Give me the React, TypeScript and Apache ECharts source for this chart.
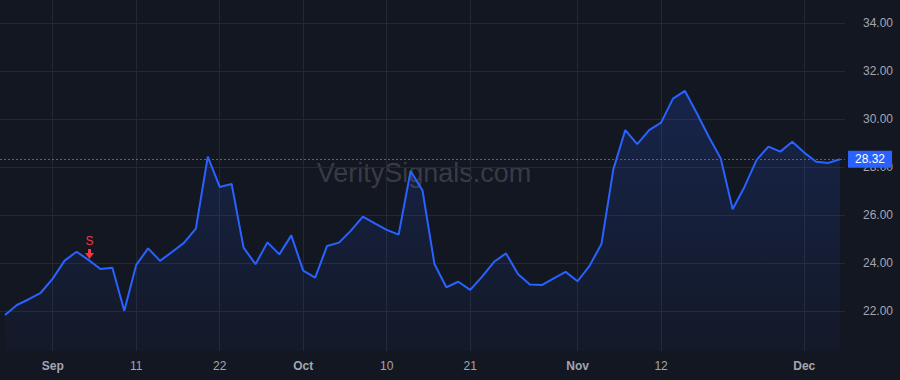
import React, { useEffect, useRef } from 'react';
import * as echarts from 'echarts';

const dates: string[] = [
  '2025-08-26', '2025-08-27', '2025-08-28', '2025-08-29',
  '2025-09-02', '2025-09-03', '2025-09-04', '2025-09-05', '2025-09-08', '2025-09-09', '2025-09-10',
  '2025-09-11', '2025-09-12', '2025-09-15', '2025-09-16', '2025-09-17', '2025-09-18', '2025-09-19',
  '2025-09-22', '2025-09-23', '2025-09-24', '2025-09-25', '2025-09-26', '2025-09-29', '2025-09-30',
  '2025-10-01', '2025-10-02', '2025-10-03', '2025-10-06', '2025-10-07', '2025-10-08', '2025-10-09',
  '2025-10-10', '2025-10-13', '2025-10-14', '2025-10-15', '2025-10-16', '2025-10-17', '2025-10-20',
  '2025-10-21', '2025-10-22', '2025-10-23', '2025-10-24', '2025-10-27', '2025-10-28', '2025-10-29',
  '2025-10-30', '2025-10-31',
  '2025-11-03', '2025-11-04', '2025-11-05', '2025-11-06', '2025-11-07', '2025-11-10', '2025-11-11',
  '2025-11-12', '2025-11-13', '2025-11-14', '2025-11-17', '2025-11-18', '2025-11-19', '2025-11-20',
  '2025-11-21', '2025-11-24', '2025-11-25', '2025-11-26', '2025-11-28',
  '2025-12-01', '2025-12-02', '2025-12-03', '2025-12-04',
];

const closes: number[] = [
  21.83, 22.25, 22.49, 22.76,
  23.35, 24.10, 24.47, 24.13, 23.75, 23.80, 22.01,
  23.92, 24.61, 24.09, 24.46, 24.84, 25.43, 28.43,
  27.17, 27.29, 24.64, 23.95, 24.86, 24.36, 25.15,
  23.68, 23.39, 24.71, 24.85, 25.35, 25.93, 25.65,
  25.38, 25.18, 27.83, 27.02, 23.96, 22.99, 23.22,
  22.88, 23.43, 24.05, 24.40, 23.54, 23.10, 23.08,
  23.36, 23.63,
  23.24, 23.88, 24.79, 27.90, 29.54, 28.95, 29.54,
  29.85, 30.85, 31.17, 30.24, 29.26, 28.36, 26.24,
  27.18, 28.29, 28.85, 28.64, 29.05, 28.60,
  28.22, 28.17, 28.32,
];

const tickDates: string[] = [
  '2025-09-02', '2025-09-11', '2025-09-22', '2025-10-01', '2025-10-10',
  '2025-10-21', '2025-11-03', '2025-11-12', '2025-12-01',
];
const tickTexts: string[] = ['Sep', '11', '22', 'Oct', '10', '21', 'Nov', '12', 'Dec'];
const monthTexts: string[] = ['Sep', 'Oct', 'Nov', 'Dec'];

const yTicks: number[] = [22, 24, 26, 28, 30, 32, 34];
const lastPrice = 28.32;
const signalDate = '2025-09-05';
const signalText = 'S';
const watermark = 'VeritySignals.com';

const FONT = '"Liberation Sans", Arial, Helvetica, sans-serif';

export default function App() {
  const ref = useRef<HTMLDivElement>(null);

  useEffect(() => {
    document.body.style.margin = '0';
    const el = ref.current;
    if (!el) return;
    const chart = echarts.init(el, null, { renderer: 'svg' });

    const tickIdx = tickDates.map((d) => dates.indexOf(d));
    const seriesData = closes.map((v, i) => [i, v]);
    const sigIdx = dates.indexOf(signalDate);
    const n = closes.length;
    const pad = 0.419;

    const option: any = {
      animation: false,
      backgroundColor: '#131722',
      textStyle: { fontFamily: FONT },
      grid: { left: 0, right: 55, top: 0, bottom: 29, containLabel: false },
      graphic: [
        {
          type: 'text',
          x: 424,
          y: 173,
          z: -10,
          silent: true,
          style: {
            text: watermark,
            fontSize: 27,
            fontFamily: FONT,
            fill: 'rgba(255,255,255,0.17)',
            textAlign: 'center',
            textVerticalAlign: 'middle',
          },
        },
      ],
      xAxis: {
        type: 'value',
        min: -pad,
        max: n - 1 + pad,
        axisLine: { show: false },
        axisTick: { show: false, customValues: tickIdx },
        splitLine: { show: true, lineStyle: { color: '#242833', width: 1 } },
        axisLabel: {
          customValues: tickIdx,
          margin: 9,
          color: '#a3a6af',
          fontSize: 12,
          fontFamily: FONT,
          formatter: (v: number) => {
            const k = tickIdx.indexOf(Math.round(v));
            if (k < 0) return '';
            const t = tickTexts[k];
            return monthTexts.includes(t) ? `{m|${t}}` : t;
          },
          rich: {
            m: { fontWeight: 'bold', fontSize: 12, color: '#a3a6af', fontFamily: FONT },
          },
        },
      },
      yAxis: {
        type: 'value',
        position: 'right',
        min: 22 - 40 / 24,
        max: 22 + 311 / 24,
        axisLine: { show: false },
        axisTick: { show: false, customValues: yTicks },
        splitLine: { show: true, lineStyle: { color: '#242833', width: 1 } },
        axisLabel: {
          customValues: yTicks,
          margin: 18,
          color: '#a3a6af',
          fontSize: 12,
          fontFamily: FONT,
          formatter: (v: number) => v.toFixed(2),
        },
      },
      series: [
        {
          type: 'line',
          data: seriesData,
          symbol: 'none',
          z: 3,
          lineStyle: { color: '#2962FF', width: 2 },
          areaStyle: {
            origin: 'start',
            color: new echarts.graphic.LinearGradient(0, 0, 0, 1, [
              { offset: 0, color: 'rgba(41,98,255,0.26)' },
              { offset: 1, color: 'rgba(41,98,255,0.04)' },
            ]),
          },
          markLine: {
            silent: true,
            symbol: 'none',
            z: 5,
            lineStyle: { color: '#2962FF', type: [2, 2], width: 1 },
            label: {
              show: true,
              position: 'end',
              distance: 3,
              formatter: lastPrice.toFixed(2),
              backgroundColor: '#2962FF',
              color: '#ffffff',
              fontSize: 12,
              fontFamily: FONT,
              padding: [3, 7, 2, 7],
            },
            data: [{ yAxis: lastPrice }],
          },
          markPoint: {
            silent: true,
            z: 6,
            data: [
              {
                coord: [sigIdx, closes[sigIdx]],
                symbol: 'path://M3,0 L6,0 L6,4 L9,4 L4.5,10 L0,4 L3,4 Z',
                symbolSize: [9, 10],
                symbolOffset: [1, -6],
                itemStyle: { color: '#F23645' },
                label: {
                  show: true,
                  position: 'top',
                  distance: 2,
                  formatter: signalText,
                  color: '#F23645',
                  fontSize: 12,
                  fontFamily: FONT,
                },
              },
            ],
          },
        },
      ],
    };

    chart.setOption(option);
    return () => chart.dispose();
  }, []);

  return (
    <div
      ref={ref}
      style={{ width: 900, height: 380, position: 'absolute', left: 0, top: 0 }}
    />
  );
}
